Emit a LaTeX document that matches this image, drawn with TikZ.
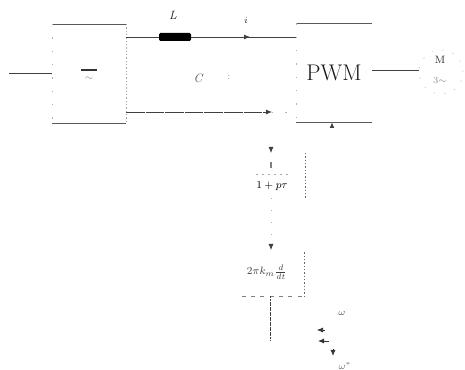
\documentclass[tikz,border=0pt]{standalone}
\usetikzlibrary{arrows.meta,calc}
\tikzset{
  x=.75pt,y=-.75pt,
  wire/.style={draw=black!75,line width=.6pt},
  boxedge/.style={draw=black!65,line width=.7pt},
  fadeedge/.style={draw=black!35,line width=.5pt,dash pattern=on 1pt off 1.5pt},
  faintedge/.style={draw=black!30,line width=.4pt,dash pattern=on 1pt off 9pt},
  blockbox/.style={inner sep=0pt,outer sep=0pt},
  tip/.style={-{Latex[length=4.5pt,width=3.8pt]}},
  lab/.style={inner sep=0pt,text=black!85,font=\fontsize{7}{8}\selectfont},
  fadelab/.style={inner sep=0pt,text=black!45,font=\fontsize{7}{8}\selectfont}
}
\begin{document}
\begin{tikzpicture}
\useasboundingbox (0,0) rectangle (465,370);
% rectifier
\node[blockbox,minimum width=55.5pt,minimum height=74.25pt] (rect) at (89,73.5) {};
\draw[boxedge] (rect.north west) -- (rect.north east);
\draw[boxedge] (rect.south west) -- (rect.south east);
\draw[fadeedge] (rect.north east) -- (rect.south east);
\draw[faintedge] (rect.north west) -- (rect.south west);
\coordinate (inA) at (9,73);
\draw[wire] (inA) -- (rect.west |- inA);
\node[inner sep=0pt,minimum width=12pt,minimum height=1pt,fill=black!80] (bar) at (89,70) {};
\node[fadelab] (ac) at (89,79) {$\sim$};
% PWM
\node[blockbox,minimum width=57pt,minimum height=74.25pt,font=\fontsize{17}{18}\selectfont,text=black!90] (pwm) at (334,73) {PWM};
\draw[boxedge] (pwm.north west) -- (pwm.north east);
\draw[boxedge] (pwm.south west) -- (pwm.south east);
\draw[faintedge] (pwm.north west) -- (pwm.south west);
% inductor
\node[blockbox,minimum width=24pt,minimum height=6pt,fill=black,rounded corners=1pt] (ind) at (175,37) {};
\coordinate (dcTopL) at (rect.east |- ind);
\coordinate (dcTopR) at (pwm.west |- ind);
\draw[wire] (dcTopL) -- (ind);
\draw[wire] (ind) -- (dcTopR);
\coordinate (iMark) at (250,37);
\draw[wire,tip] (ind) -- (iMark);
\node[lab,font=\fontsize{9}{10}\selectfont\itshape] (Llab) at (173,15) {L};
\node[lab] (ilab) at (246,20) {$i$};
% lower dc rail
\coordinate (dcBotL) at (126,112);
\coordinate (dcBotM) at (272,112);
\coordinate (dcBotR) at (296,112);
\draw[wire,dash pattern=on 14pt off .7pt,tip] (dcBotL) -- (dcBotM);
\draw[faintedge] (dcBotM) -- (dcBotR);
% capacitor
\node[fadelab,font=\fontsize{9}{10}\selectfont\itshape,text=black!65] (Clab) at (198,78) {C};
\node[fadelab] (Cdots) at (229,77) {:};
% motor
\node[circle,minimum size=33pt,inner sep=0pt,draw=black!22,line width=.5pt,dash pattern=on 1pt off 7pt] (mot) at (441,72) {};
\node[lab,font=\fontsize{8}{9}\selectfont] (Mlab) at (440,60) {M};
\node[fadelab] (Tlab) at (440,80) {3$\sim$};
\draw[wire] (pwm.east |- 0,70) -- (mot.west |- 0,70);
% first order block
\node[blockbox,minimum width=47pt,minimum height=33.75pt] (lag) at (273.5,175.5) {};
\draw[fadeedge,draw=black!60] (lag.north east) -- (lag.south east);
\coordinate (lagDashL) at (256,174);
\coordinate (lagDashR) at (289,174);
\draw[draw=black!35,line width=.4pt,dash pattern=on 1.5pt off 3pt] (lagDashL) -- (lagDashR);
\node[lab,font=\fontsize{8.5}{9}\selectfont,text=black] (lagtxt) at (272,186) {$1+p\tau$};
\coordinate (lagTop) at (271,147);
\draw[tip,wire] (lagTop) -- (271,153);
\coordinate (lagS1) at (271,162);
\coordinate (lagS2) at (271,168);
\draw[draw=black!50,line width=.8pt] (lagS1) -- (lagS2);
\coordinate (pwmIn) at (332,128);
\draw[wire,-{Latex[length=4pt,width=3.6pt]}] (pwmIn) -- (pwmIn |- pwm.south);
% gain block
\node[blockbox,minimum width=47pt,minimum height=33pt] (gain) at (273,274.5) {};
\draw[fadeedge,draw=black!60] (gain.north east) -- (gain.south east);
\draw[draw=black!50,line width=.4pt,dash pattern=on 3pt off 4pt] (gain.south west) -- (gain.south east);
\node[lab,font=\fontsize{8}{9}\selectfont,text=black!75] (gaintxt) at (267,272) {$2\pi k_m\frac{d}{dt}$};
\coordinate (lagOut) at (271,198);
\coordinate (gainTop) at (271,244);
\draw[faintedge,dash pattern=on 1pt off 8pt] (lagOut) -- (gainTop);
\draw[tip,wire] (gainTop) -- (271,250);
\coordinate (gainOut) at (270,340);
\draw[wire,dash pattern=on 1.5pt off .4pt] (gain.south -| gainOut) -- (gainOut);
% summing point
\coordinate (sumA) at (325,330);
\coordinate (sumB) at (329,341);
\coordinate (sumC) at (333,349);
\draw[black!80,line width=.5pt,tip] (sumA) -- (317,330);
\draw[black!80,line width=.7pt,tip] (sumB) -- (318,341);
\draw[black!80,line width=.7pt,tip] (sumC) -- (333,356);
\node[lab,text=black!70] (wlab) at (342,313) {$\omega$};
\node[lab,text=black!60] (wref) at (345,366) {$\omega^{*}$};
\end{tikzpicture}
\end{document}
